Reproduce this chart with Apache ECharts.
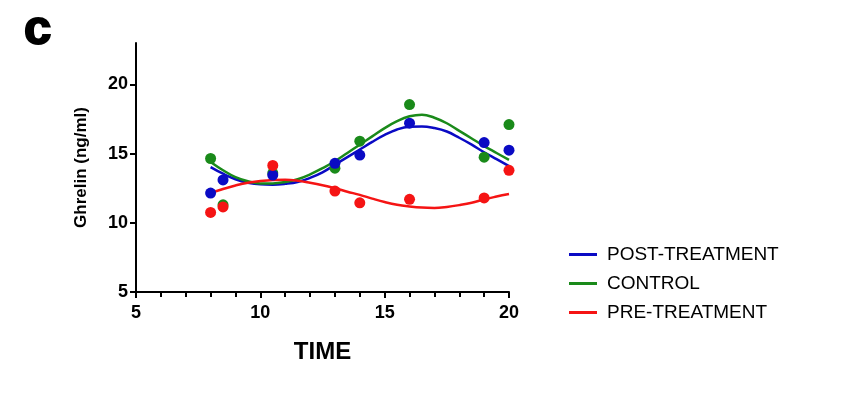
<!DOCTYPE html>
<html>
<head>
<meta charset="utf-8">
<script src="https://cdn.jsdelivr.net/npm/echarts@6/dist/echarts.min.js"></script>
<style>
html,body{margin:0;padding:0;background:#fff;}
#chart{width:850px;height:397px;}
</style>
</head>
<body>
<div id="chart"></div>
<script>
// measured times
var times = [8, 8.5, 10.5, 13, 14, 16, 19, 20];
var postPts = [12.15, 13.1, 13.45, 14.3, 14.9, 17.2, 15.8, 15.25];
var controlPts = [14.65, 11.3, 13.6, 13.95, 15.9, 18.55, 14.75, 17.1];
var prePts = [10.75, 11.15, 14.15, 12.3, 11.45, 11.7, 11.8, 13.8];

// fitted curves
var curveX = [8, 8.5, 9, 9.5, 10, 10.5, 11, 11.5, 12, 12.5, 13, 13.5, 14, 14.5, 15, 15.5, 16, 16.5, 17, 17.5, 18, 18.5, 19, 19.5, 20];
var postFit = [14.03, 13.55, 13.15, 12.9, 12.78, 12.76, 12.82, 12.95, 13.25, 13.65, 14.2, 14.75, 15.3, 15.85, 16.35, 16.75, 16.95, 16.97, 16.85, 16.6, 16.15, 15.65, 15.1, 14.6, 14.1];
var controlFit = [14.4, 13.8, 13.3, 13.0, 12.85, 12.85, 12.95, 13.15, 13.5, 13.95, 14.45, 15.05, 15.65, 16.25, 16.85, 17.35, 17.7, 17.82, 17.6, 17.2, 16.65, 16.1, 15.55, 15.05, 14.55];
var preFit = [12.15, 12.45, 12.7, 12.9, 13.02, 13.1, 13.12, 13.05, 12.9, 12.72, 12.5, 12.25, 12.02, 11.75, 11.5, 11.3, 11.18, 11.1, 11.08, 11.15, 11.28, 11.45, 11.7, 11.9, 12.08];

var names = ['POST-TREATMENT', 'CONTROL', 'PRE-TREATMENT'];
var colors = ['#0a0ac4', '#1a8a1a', '#f51414'];
var yTicks = [5, 10, 15, 20];

function pairs(xs, ys){
	var out = [];
	for(var i=0;i<xs.length;i++){
		out.push([xs[i], ys[i]]);
	}
	return out;
}

var fits = [postFit, controlFit, preFit];
var pts = [postPts, controlPts, prePts];

var series = [];
// curves first
for(var i=0;i<3;i++){
	series.push({
		name: names[i],
		type: 'line',
		smooth: 0.4,
		showSymbol: false,
		data: pairs(curveX, fits[i]),
		lineStyle: {color: colors[i], width: 2.5},
		itemStyle: {color: colors[i]},
		z: 2
	});
}
// dots: control, post, pre
[1, 0, 2].forEach(function(i){
	series.push({
		name: names[i] + ' data',
		type: 'scatter',
		symbolSize: 11,
		data: pairs(times, pts[i]),
		itemStyle: {color: colors[i], opacity: 1},
		z: 3
	});
});

var myChart = echarts.init(document.getElementById('chart'));
myChart.setOption({
	animation: false,
	title: {
		text: 'c',
		left: 19,
		top: 1,
		textStyle: {fontFamily: 'Liberation Sans', fontSize: 49, fontWeight: 'bold', color: '#000', textBorderColor: '#000', textBorderWidth: 2}
	},
	grid: {left: 136, right: 341, top: 43, bottom: 105},
	legend: {
		data: names,
		orient: 'vertical',
		left: 564,
		top: 240,
		itemGap: 10,
		itemWidth: 28,
		itemHeight: 3,
		icon: 'rect',
		textStyle: {fontFamily: 'Liberation Sans', fontSize: 19, color: '#000', padding: [0, 0, 0, 5]}
	},
	xAxis: {
		type: 'value',
		min: 5,
		max: 20,
		interval: 5,
		name: 'TIME',
		nameLocation: 'middle',
		nameGap: 48,
		nameTextStyle: {fontFamily: 'Liberation Sans', fontSize: 24, fontWeight: 'bold', color: '#000'},
		axisLine: {onZero: false, lineStyle: {color: '#000', width: 2}},
		axisTick: {show: true, length: 6, lineStyle: {color: '#000', width: 2}},
		minorTick: {show: true, splitNumber: 5, length: 5, lineStyle: {color: '#000', width: 2}},
		axisLabel: {fontFamily: 'Liberation Sans', fontSize: 18, fontWeight: 'bold', color: '#000', margin: 12},
		splitLine: {show: false}
	},
	yAxis: {
		type: 'value',
		min: 5,
		max: 23,
		name: 'Ghrelin (ng/ml)',
		nameLocation: 'middle',
		nameGap: 46,
		nameTextStyle: {fontFamily: 'Liberation Sans', fontSize: 17, fontWeight: 'bold', color: '#000'},
		axisLine: {show: true, onZero: false, lineStyle: {color: '#000', width: 2}},
		axisTick: {show: true, length: 6, customValues: yTicks, lineStyle: {color: '#000', width: 2}},
		axisLabel: {customValues: yTicks, fontFamily: 'Liberation Sans', fontSize: 18, fontWeight: 'bold', color: '#000', margin: 8},
		splitLine: {show: false}
	},
	series: series
});
</script>
</body>
</html>
